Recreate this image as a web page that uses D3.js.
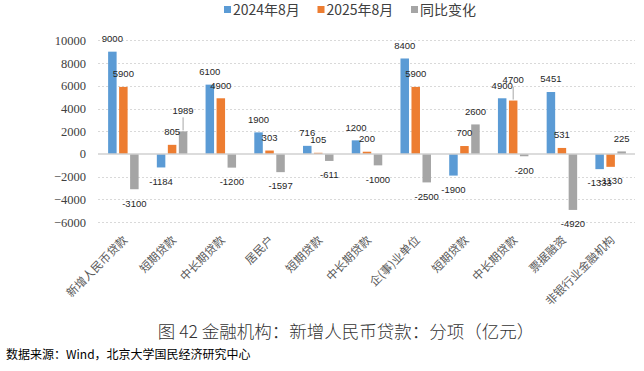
<!DOCTYPE html>
<html>
<meta charset="utf-8">
<style>
  body { margin: 0; background: #fff; }
  svg { display: block; }
</style>
<body>
<script src="https://cdn.jsdelivr.net/npm/d3@7"></script>
<script>

// chart data
var categories = ["新增人民币贷款", "短期贷款", "中长期贷款", "居民户", "短期贷款", "中长期贷款",
                  "企(事)业单位", "短期贷款", "中长期贷款", "票据融资", "非银行业金融机构"];
var aug2024 = [9000, -1184, 6100, 1900, 716, 1200, 8400, -1900, 4900, 5451, -1333];
var aug2025 = [5900, 805, 4900, 303, 105, 200, 5900, 700, 4700, 531, -1130];
var yoyChange = [-3100, 1989, -1200, -1597, -611, -1000, -2500, 2600, -200, -4920, 225];
var seriesNames = ["2024年8月", "2025年8月", "同比变化"];
var yTicks = [-6000, -4000, -2000, 0, 2000, 4000, 6000, 8000, 10000];

var colors = ["#5b9bd5", "#ed7d31", "#a5a5a5"];

// labels that excel pushed up with a leader line: [category, series]
var leaderLabels = [[1, 2], [8, 1]];

var width = 644, height = 371;

var svg = d3.select("body")
  .append("svg")
  .attr("width", width)
  .attr("height", height);

var x = d3.scaleBand()
  .domain(d3.range(categories.length))
  .range([99, 635]);

var y = d3.scaleLinear()
  .domain([-6000, 10000])
  .range([222.2, 40.3]);

var allSeries = [aug2024, aug2025, yoyChange];
var barW = 8.5, step = 11;

// gridlines
svg.append("g")
  .selectAll("line")
  .data(yTicks.filter(function(d) { return d !== 0; }))
  .enter().append("line")
  .attr("x1", 98).attr("x2", 635)
  .attr("y1", function(d) { return Math.round(y(d)) + 0.5; })
  .attr("y2", function(d) { return Math.round(y(d)) + 0.5; })
  .style("stroke", "#d9d9d9")
  .style("stroke-dasharray", "2,2");

// y axis labels
var yAxis = d3.axisLeft(y).tickValues(yTicks).tickFormat(d3.format("d")).tickSize(0).tickPadding(0);
var ga = svg.append("g")
  .attr("transform", "translate(86,0)")
  .call(yAxis);
ga.attr("font-family", null).attr("font-size", null);
ga.select(".domain").remove();
ga.selectAll("text")
  .style("font-family", "'Liberation Serif', 'Times New Roman', serif")
  .style("font-size", "12.5px")
  .style("fill", "#404040");

// bars
allSeries.forEach(function(vals, s) {
  svg.append("g")
    .selectAll("rect")
    .data(vals)
    .enter().append("rect")
    .attr("x", function(d, i) { return x(i) + x.bandwidth() / 2 + (s - 1) * step - barW / 2; })
    .attr("y", function(d) { return Math.min(y(d), y(0)); })
    .attr("width", barW)
    .attr("height", function(d) { return Math.abs(y(d) - y(0)); })
    .style("fill", colors[s]);
});

// zero line
svg.append("line")
  .attr("x1", 98).attr("x2", 635)
  .attr("y1", y(0)).attr("y2", y(0))
  .style("stroke", "#d0d0d0")
  .style("stroke-width", 1.5);

// value labels
function isLeader(i, s) {
  return leaderLabels.some(function(p) { return p[0] === i && p[1] === s; });
}

allSeries.forEach(function(vals, s) {
  var g = svg.append("g");
  vals.forEach(function(d, i) {
    var cx = x(i) + x.bandwidth() / 2 + (s - 1) * step;
    var lift = isLeader(i, s) ? 8 : 0;
    var ty = d >= 0 ? y(d) - 13 - lift : y(d) + 14;
    if (lift) {
      g.append("line")
        .attr("x1", cx).attr("x2", cx)
        .attr("y1", ty + 7).attr("y2", y(d) - 1)
        .style("stroke", "#a6a6a6")
        .style("stroke-width", 1);
    }
    g.append("text")
      .attr("x", cx)
      .attr("y", ty)
      .attr("text-anchor", "middle")
      .attr("dy", "0.35em")
      .style("font-family", "'Liberation Sans', Arial, sans-serif")
      .style("font-size", "9.5px")
      .style("fill", "#262626")
      .text(d);
  });
});

// category labels, rotated
svg.append("g")
  .selectAll("text")
  .data(categories)
  .enter().append("text")
  .attr("transform", function(d, i) {
    return "translate(" + (x(i) + x.bandwidth() / 2 + 2) + ",238) rotate(-45)";
  })
  .attr("text-anchor", "end")
  .attr("dy", "0.35em")
  .style("font-family", "'Noto Sans CJK SC', sans-serif")
  .style("font-size", "11.5px")
  .style("fill", "#595959")
  .text(function(d) { return d; });

// legend
var legend = svg.append("g")
  .selectAll("g")
  .data(seriesNames)
  .enter().append("g")
  .attr("transform", function(d, i) { return "translate(" + (224 + i * 93.5) + ",0)"; });
legend.append("rect")
  .attr("x", 0).attr("y", 6)
  .attr("width", 7).attr("height", 7)
  .style("fill", function(d, i) { return colors[i]; });
legend.append("text")
  .attr("x", 9)
  .attr("y", 10)
  .attr("dy", "0.35em")
  .style("font-family", "'Noto Sans CJK SC', sans-serif")
  .style("font-size", "14px")
  .style("fill", "#404040")
  .text(function(d) { return d; });

// title and source
svg.append("text")
  .attr("x", 346)
  .attr("y", 332)
  .attr("dy", "0.35em")
  .attr("text-anchor", "middle")
  .style("font-family", "'Noto Sans CJK SC', sans-serif")
  .style("font-size", "17.5px")
  .style("font-weight", 300)
  .style("fill", "#333")
  .text("图 42  金融机构：新增人民币贷款：分项（亿元）");

svg.append("text")
  .attr("x", 6)
  .attr("y", 355)
  .attr("dy", "0.35em")
  .style("font-family", "'Noto Sans CJK SC', sans-serif")
  .style("font-size", "12px")
  .style("fill", "#000")
  .text("数据来源：Wind，北京大学国民经济研究中心");

</script>
</body>
</html>
